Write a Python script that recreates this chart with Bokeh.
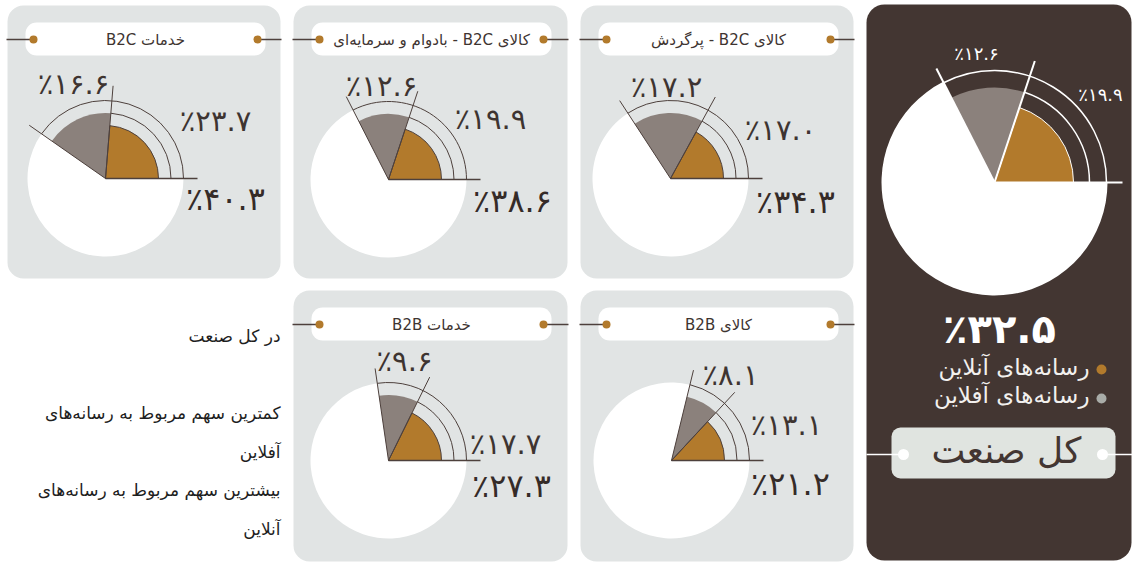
import math
from bokeh.plotting import figure
from bokeh.models import Range1d, ColumnDataSource
from bokeh.core.properties import value
from bokeh.embed import file_html
from bokeh.resources import INLINE

W, H = 1134, 563

# ---------------- data ----------------
categories = ["خدمات B2C", "کالای B2C - بادوام و سرمایه‌ای", "کالای B2C - پرگردش",
              "خدمات B2B", "کالای B2B"]
online = [23.7, 19.9, 17.0, 17.7, 13.1]
offline = [16.6, 12.6, 17.2, 9.6, 8.1]
totals = [40.3, 38.6, 34.3, 27.3, 21.2]

industry_title = "کل صنعت"
industry_online = 19.9
industry_offline = 12.6
industry_total = 32.5
legend_labels = ["رسانه‌های آنلاین", "رسانه‌های آفلاین"]

notes = ["در کل صنعت", "کمترین سهم مربوط به رسانه‌های", "آفلاین",
         "بیشترین سهم مربوط به رسانه‌های", "آنلاین"]

# ---------------- style ----------------
FONT = value("DejaVu Sans")
PANEL_BG = "#e1e4e4"
BROWN = "#b27a2c"
GRAYW = "#8b817c"
DARK = "#433632"
LINE_C = "#4d403c"
TEXT_C = "#3e3431"
LEG_GRAY = "#a9aca8"

FA = str.maketrans("0123456789", "۰۱۲۳۴۵۶۷۸۹")


def pct(v):
    return "٪" + f"{v:.1f}".translate(FA)


def rtl(s):
    return "\u202b" + s + "\u202c"


def Y(py):
    return H - py


def ang(v):
    return v * 2 * math.pi / 100.0


# ---------------- layout (pixel positions) ----------------
boxes = [(7, 5, 280, 278), (293, 5, 567, 278), (580, 5, 853, 278),
         (293, 290, 567, 561), (580, 290, 853, 561)]
centers = [(105, 178), (388, 179), (670, 178), (388, 460), (671, 460)]
off_lab = [(73, 83), (381, 85), (666, 86), (404, 360), (730, 374)]
on_lab = [(215, 120), (490, 118), (780, 129), (505, 443), (786, 424)]
tot_lab = [(225, 198), (512, 200), (795, 201), (511, 485), (790, 483)]

p = figure(width=W, height=H, x_range=Range1d(0, W), y_range=Range1d(0, H),
           output_backend="svg", toolbar_location=None,
           x_axis_location=None, y_axis_location=None, min_border=0)
p.grid.visible = False
p.outline_line_color = None
p.background_fill_color = "white"
p.border_fill_color = "white"

# panel backgrounds
p.quad(left=[b[0] for b in boxes], right=[b[2] for b in boxes],
       top=[Y(b[1]) for b in boxes], bottom=[Y(b[3]) for b in boxes],
       fill_color=PANEL_BG, line_color=None, border_radius=16)
p.quad(left=[866], right=[1131], top=[Y(4)], bottom=[Y(560)],
       fill_color=DARK, line_color=None, border_radius=18)

# title pills
p.quad(left=[b[0] + 18 for b in boxes], right=[b[0] + 258 for b in boxes],
       top=[Y(b[1] + 17) for b in boxes], bottom=[Y(b[1] + 50) for b in boxes],
       fill_color="white", line_color=None, border_radius=11)
ty = [Y(b[1] + 34) for b in boxes]
p.segment(x0=[b[0] - 1 for b in boxes], x1=[b[0] + 26 for b in boxes], y0=ty, y1=ty,
          line_color=LINE_C, line_width=1.5)
p.segment(x0=[b[0] + 250 for b in boxes], x1=[b[2] + 1 for b in boxes], y0=ty, y1=ty,
          line_color=LINE_C, line_width=1.5)
p.scatter(x=[b[0] + 26 for b in boxes] + [b[0] + 250 for b in boxes], y=ty + ty,
          size=8, fill_color=BROWN, line_color=None)
p.text(x=[b[0] + 138 for b in boxes], y=ty, text=[rtl(c) for c in categories],
       text_font=FONT, text_font_size="15px", text_color=TEXT_C,
       text_align="center", text_baseline="middle")

# small pies
src = ColumnDataSource(dict(
    x=[c[0] for c in centers], y=[Y(c[1]) for c in centers],
    a_on=[ang(v) for v in online],
    a_tot=[ang(a + b) for a, b in zip(online, offline)],
    full=[2 * math.pi] * len(online), zero=[0.0] * len(online),
))
p.wedge(x="x", y="y", radius=78, start_angle="a_tot", end_angle="full", source=src,
        fill_color="white", line_color=None)
p.wedge(x="x", y="y", radius=65.5, start_angle="a_on", end_angle="a_tot", source=src,
        fill_color=GRAYW, line_color=None)
p.wedge(x="x", y="y", radius=53, start_angle="zero", end_angle="a_on", source=src,
        fill_color=BROWN, line_color=LINE_C, line_width=1)
p.arc(x="x", y="y", radius=65.5, start_angle="zero", end_angle="a_on", source=src,
      line_color=LINE_C, line_width=1)
p.arc(x="x", y="y", radius=78, start_angle="zero", end_angle="a_tot", source=src,
      line_color=LINE_C, line_width=1)
p.ray(x="x", y="y", length=93, angle="a_on", length_units="screen", source=src,
      line_color=LINE_C, line_width=1)
p.ray(x="x", y="y", length=93, angle="a_tot", length_units="screen", source=src,
      line_color=LINE_C, line_width=1)
p.ray(x="x", y="y", length=92, angle="zero", length_units="screen", source=src,
      line_color=LINE_C, line_width=1.5)

p.text(x=[c[0] for c in off_lab], y=[Y(c[1]) for c in off_lab], text=[pct(v) for v in offline],
       text_font=FONT, text_font_size="29px", text_color=TEXT_C,
       text_align="center", text_baseline="middle")
p.text(x=[c[0] for c in on_lab], y=[Y(c[1]) for c in on_lab], text=[pct(v) for v in online],
       text_font=FONT, text_font_size="29px", text_color=TEXT_C,
       text_align="center", text_baseline="middle")
p.text(x=[c[0] for c in tot_lab], y=[Y(c[1]) for c in tot_lab], text=[pct(v) for v in totals],
       text_font=FONT, text_font_size="32px", text_color="#352b28",
       text_align="center", text_baseline="middle")

# industry pie
cx, cy = 994, Y(182)
a_on = ang(industry_online)
a_tot = ang(industry_online + industry_offline)
p.wedge(x=[cx], y=[cy], radius=113, start_angle=[a_tot], end_angle=[2 * math.pi],
        fill_color="white", line_color=None)
p.wedge(x=[cx], y=[cy], radius=95, start_angle=[a_on], end_angle=[a_tot],
        fill_color=GRAYW, line_color=None)
p.wedge(x=[cx], y=[cy], radius=79, start_angle=[0], end_angle=[a_on],
        fill_color=BROWN, line_color="white", line_width=1)
p.arc(x=[cx], y=[cy], radius=95, start_angle=[0], end_angle=[a_on],
      line_color="white", line_width=1.5)
p.arc(x=[cx], y=[cy], radius=112, start_angle=[0], end_angle=[a_tot],
      line_color="white", line_width=1.5)
p.ray(x=[cx, cx, cx], y=[cy, cy, cy], length=128, angle=[a_on, a_tot, 0],
      length_units="screen", line_color="white", line_width=2)
p.text(x=[976, 1100], y=[Y(53), Y(94)], text=[pct(industry_offline), pct(industry_online)],
       text_font=FONT, text_font_size="18px", text_color="white",
       text_align="center", text_baseline="middle")
p.text(x=[999], y=[Y(328)], text=[pct(industry_total)],
       text_font=FONT, text_font_size="40px", text_font_style="bold", text_color="white",
       text_align="center", text_baseline="middle")

# legend
p.scatter(x=[1101, 1101], y=[Y(369), Y(398)], size=10,
          fill_color=[BROWN, LEG_GRAY], line_color=None)
p.text(x=[1089, 1089], y=[Y(366), Y(394)], text=[rtl(s) for s in legend_labels],
       text_font=FONT, text_font_size="23px", text_color="#f2f0ee",
       text_align="right", text_baseline="middle")

# industry pill
p.quad(left=[891], right=[1115], top=[Y(427)], bottom=[Y(478)],
       fill_color="#e0e4e0", line_color=None, border_radius=9)
p.segment(x0=[866, 1102], x1=[903, 1134], y0=[Y(454), Y(454)], y1=[Y(454), Y(454)],
          line_color="white", line_width=1.5)
p.scatter(x=[903, 1102], y=[Y(454), Y(454)], size=11, fill_color="white", line_color=None)
p.text(x=[1006], y=[Y(450)], text=[rtl(industry_title)],
       text_font=FONT, text_font_size="36px", text_color=DARK,
       text_align="center", text_baseline="middle")

# notes
note_y = [335, 412, 451, 489, 528]
p.text(x=[280] * len(notes), y=[Y(v) for v in note_y], text=[rtl(s) for s in notes],
       text_font=FONT, text_font_size="17px", text_color="#1e1e1e",
       text_align="right", text_baseline="middle")

open("out.html", "w").write(file_html(p, INLINE))
